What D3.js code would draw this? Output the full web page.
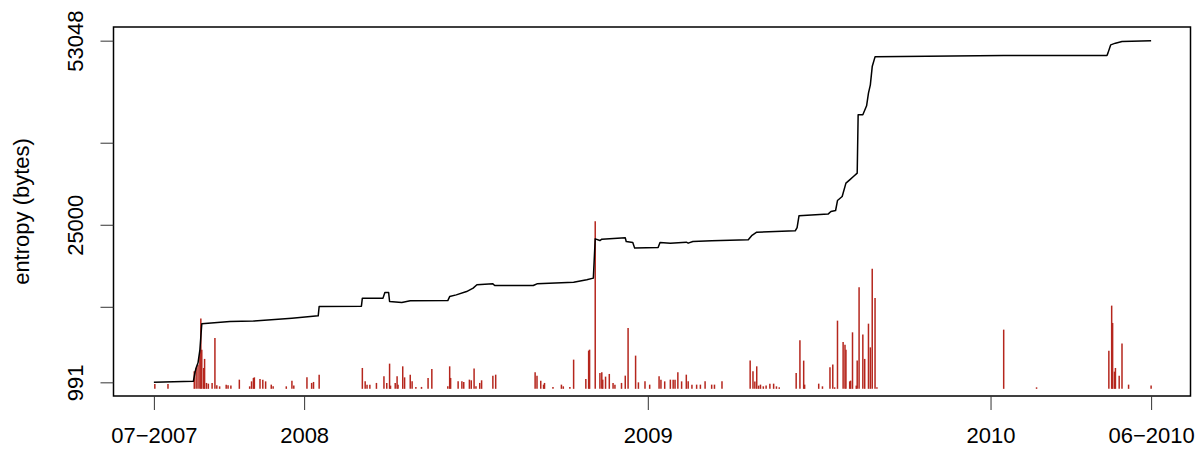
<!DOCTYPE html>
<html>
<head>
<meta charset="utf-8">
<script src="https://cdn.jsdelivr.net/npm/d3@7"></script>
<style>
  body { margin: 0; background: #fff; }
  text { font-family: "Liberation Sans", Arial, Helvetica, sans-serif; fill: #000; }
</style>
</head>
<body>
<div id="chart"></div>
<script>
// first and last observation
var startDate = "2007-07-25";
var endDate = "2010-06-21";

// cumulative entropy (black line): days since start, bytes
var lineDays  = [0, 42, 44, 45, 47, 49, 51, 81, 106, 147, 175, 176, 221, 222, 244, 246, 250, 251, 264, 273, 313, 315, 322, 333, 340, 344, 361, 363, 404, 408, 447, 461, 468, 470, 475, 477, 502, 503, 510, 512, 537, 539, 550, 567, 569, 574, 594, 633, 637, 642, 683, 685, 687, 718, 721, 726, 728, 733, 737, 741, 745, 749, 750, 755, 759, 761, 763, 765, 768, 905, 1015, 1016, 1019, 1024, 1031, 1062];
var lineBytes = [991, 1140, 2640, 3200, 3960, 5940, 9900, 10250, 10320, 10770, 11120, 12540, 12600, 13820, 13820, 14670, 14670, 13300, 13150, 13410, 13450, 14060, 14320, 14820, 15340, 15850, 16000, 15740, 15740, 16000, 16230, 16610, 16870, 22850, 22590, 22810, 23010, 22440, 22290, 21440, 21530, 22290, 22200, 22350, 22200, 22440, 22550, 22700, 23390, 23870, 24070, 24570, 26360, 26620, 27010, 27170, 28690, 29300, 31340, 31840, 32350, 32860, 41750, 41750, 43120, 45050, 46320, 49100, 50580, 50780, 50780, 51150, 52410, 52670, 52910, 53048];

// per-commit entropy change (red spikes): days since start, bytes
var barDays  = [1, 15, 43, 45, 47, 49, 50, 51, 53, 54, 56, 58, 62, 65, 67, 70, 77, 79, 82, 91, 102, 104, 106, 107, 113, 116, 119, 125, 127, 141, 147, 149, 163, 168, 170, 176,
                222, 225, 227, 230, 237, 245, 248, 251, 252, 257, 259, 260, 265, 267, 273, 275, 279, 285, 292, 296, 313, 315, 316, 324, 328, 330, 336, 338, 341, 343, 347, 349, 361, 364,
                406, 408, 412, 415, 416, 425, 434, 436, 443, 447, 460, 463, 464, 470, 475, 477, 478, 481, 485, 489, 491, 498, 502, 505, 513, 516, 523, 528, 538, 540, 544, 550, 553, 555, 558, 562, 567, 569, 573, 578, 582, 587, 594, 597, 605,
                635, 638, 640, 642, 644, 646, 649, 652, 656, 660, 663, 666, 684, 688, 692, 693, 708, 712, 720, 723, 725, 728, 734, 736, 737, 741, 742, 744, 748, 749, 751, 755, 757, 761, 763, 765, 768, 770,
                905, 940, 1017, 1020, 1021, 1023, 1024, 1028, 1031, 1038, 1062];
var barBytes = [750, 750, 2670, 3180, 3690, 5710, 10700, 5970, 3180, 4560, 900, 790, 900, 7760, 530, 380, 640, 530, 490, 1400, 380, 1140, 1660, 1750, 1510, 1400, 1140, 640, 380, 380, 1250, 490, 1750, 900, 1050, 2160,
                3180, 1140, 640, 640, 900, 1900, 900, 3840, 490, 900, 1900, 640, 3430, 1750, 2160, 1140, 290, 290, 1660, 3030, 380, 3430, 1660, 1140, 1140, 1050, 1400, 1300, 3080, 380, 900, 1300, 2010, 2160,
                2510, 2010, 1250, 640, 900, 290, 640, 380, 290, 4450, 1510, 5820, 5970, 25520, 2420, 2510, 1400, 1860, 2270, 900, 640, 900, 2010, 9280, 5060, 990, 1140, 640, 1900, 1400, 1140, 1400, 1400, 1400, 2510, 1140, 2160, 1140, 640, 640, 640, 1140, 640, 640, 1140,
                4300, 2670, 1100, 3430, 490, 640, 380, 490, 790, 790, 380, 230, 2420, 7390, 4300, 640, 790, 380, 3280, 3690, 230, 10390, 7150, 6730, 5970, 1140, 1250, 8610, 490, 4300, 15460, 8260, 4560, 9930, 6320, 18310, 13850, 230,
                9020, 230, 5820, 12680, 10040, 2620, 3180, 2010, 6890, 640, 490];

var xTickDates  = ["2007-07-25", "2008-01-01", "2009-01-01", "2010-01-01", "2010-06-21"];
var xTickLabels = ["07\u22122007", "2008", "2009", "2010", "06\u22122010"];
var yTickValues = [991, 12500, 25000, 37500, 53048];
var yTickLabels = ["991", "", "25000", "", "53048"];

var width = 1203, height = 450;
var plotLeft = 114, plotRight = 1191, plotTop = 27, plotBottom = 396;

var parse = d3.utcParse("%Y-%m-%d");
var t0 = parse(startDate), t1 = parse(endDate);
var day = function(n) { return d3.utcDay.offset(t0, n); };

// R style: pad ranges by 4% on each side
var xPad = (t1 - t0) * 0.04;
var x = d3.scaleUtc()
    .domain([new Date(+t0 - xPad), new Date(+t1 + xPad)])
    .range([plotLeft, plotRight]);

var yMin = d3.min(lineBytes), yMax = d3.max(lineBytes);
var yPad = (yMax - yMin) * 0.04;
var y = d3.scaleLinear()
    .domain([yMin - yPad, yMax + yPad])
    .range([plotBottom, plotTop]);

var svg = d3.select("#chart").append("svg")
    .attr("width", width)
    .attr("height", height);

// spikes
svg.append("g")
    .selectAll("line")
    .data(d3.range(barDays.length))
    .enter()
    .append("line")
        .attr("x1", function(i) { return x(day(barDays[i])); })
        .attr("x2", function(i) { return x(day(barDays[i])); })
        .attr("y1", y(0))
        .attr("y2", function(i) { return y(barBytes[i]); })
        .attr("stroke", "#b5261d")
        .attr("stroke-width", 1.5);

// cumulative line
var line = d3.line()
    .x(function(i) { return x(day(lineDays[i])); })
    .y(function(i) { return y(lineBytes[i]); });

svg.append("path")
    .datum(d3.range(lineDays.length))
    .attr("d", line)
    .attr("fill", "none")
    .attr("stroke", "#000")
    .attr("stroke-width", 1.5)
    .attr("stroke-linejoin", "round");

// box
svg.append("rect")
    .attr("x", plotLeft - 0.5)
    .attr("y", plotTop)
    .attr("width", plotRight - plotLeft)
    .attr("height", plotBottom - plotTop)
    .attr("fill", "none")
    .attr("stroke", "#000")
    .attr("stroke-width", 1.5);

// x axis
var xAxis = d3.axisBottom(x)
    .tickValues(xTickDates.map(parse))
    .tickFormat(function(d, i) { return xTickLabels[i]; })
    .tickSize(14)
    .tickSizeOuter(0)
    .tickPadding(17);

var gx = svg.append("g")
    .attr("transform", "translate(0," + plotBottom + ")")
    .call(xAxis);
gx.select(".domain").remove();
gx.selectAll(".tick line").attr("stroke", "#333");
gx.selectAll(".tick text")
    .style("font-size", "22px")
    .attr("fill", "#000");

// y axis
var yAxis = d3.axisLeft(y)
    .tickValues(yTickValues)
    .tickFormat(function(d, i) { return yTickLabels[i]; })
    .tickSize(13)
    .tickSizeOuter(0);

var gy = svg.append("g")
    .attr("transform", "translate(" + (plotLeft - 0.5) + ",0)")
    .call(yAxis);
gy.select(".domain").remove();
gy.selectAll(".tick line").attr("stroke", "#333");
gy.selectAll(".tick text")
    .attr("x", null)
    .attr("dy", null)
    .attr("transform", "translate(-31,0) rotate(-90)")
    .attr("text-anchor", "middle")
    .style("font-size", "22px")
    .attr("fill", "#000");

// y label
svg.append("text")
    .attr("transform", "translate(29," + ((plotTop + plotBottom) / 2) + ") rotate(-90)")
    .attr("text-anchor", "middle")
    .style("font-size", "22px")
    .text("entropy (bytes)");
</script>
</body>
</html>
